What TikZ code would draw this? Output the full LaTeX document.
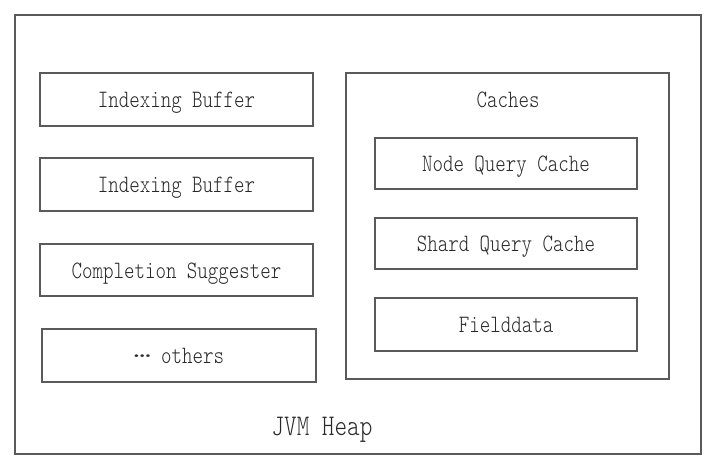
\documentclass[tikz,border=0pt]{standalone}
\usepackage{fontspec}
\setmonofont[FakeStretch=0.8]{lmmonolt10-regular.otf}
\definecolor{boxline}{RGB}{90,90,90}
\definecolor{txt}{RGB}{40,40,40}
\tikzset{
  txtfont/.style={font=\ttfamily\fontsize{25}{27}\selectfont, text=txt,
    text height=16pt, text depth=0pt},
  membox/.style={draw=boxline, line width=1.7pt, rectangle, inner sep=0pt, txtfont},
  lbl/.style={inner sep=0pt, txtfont}
}
\begin{document}
\begin{tikzpicture}[x=1pt,y=-1pt]
\useasboundingbox (0,0) rectangle (713,464);
\node[membox, minimum width=686pt, minimum height=439pt] (heap) at (358,234.5) {};
\node[lbl, font=\ttfamily\fontsize{30}{32}\selectfont, text height=18pt] (heaplbl) at (322,426) {JVM Heap};
\node[membox, minimum width=273pt, minimum height=53pt] (ib1) at (176.5,99.5) {Indexing Buffer};
\node[membox, minimum width=273pt, minimum height=53pt] (ib2) at (176.5,184.5) {Indexing Buffer};
\node[membox, minimum width=273pt, minimum height=52pt] (cs) at (176.5,270) {Completion Suggester};
\node[membox, minimum width=274pt, minimum height=53pt] (oth) at (179,355.5) {\raisebox{0.25em}{\scalebox{1.6}[1]{…}} others};
\node[membox, minimum width=323pt, minimum height=306pt] (caches) at (507.5,226) {};
\node[lbl] (cacheslbl) at (508,99) {Caches};
\node[membox, minimum width=262pt, minimum height=51pt] (nqc) at (506,163.5) {Node Query Cache};
\node[membox, minimum width=262pt, minimum height=51pt] (sqc) at (506,243.5) {Shard Query Cache};
\node[membox, minimum width=262pt, minimum height=53pt] (fd) at (506,324.5) {Fielddata};
\end{tikzpicture}
\end{document}
